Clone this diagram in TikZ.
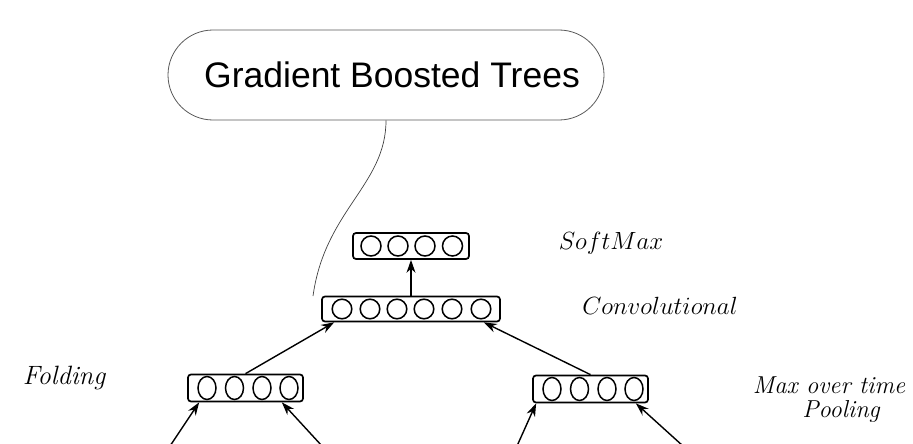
\documentclass[tikz,border=0pt]{standalone}
\usepackage{fontspec}
\newfontfamily\arialfont{Liberation Sans}
\usetikzlibrary{arrows.meta}
\begin{document}
\begin{tikzpicture}[x=1pt,y=-1pt,
  nbox/.style={draw, line width=1.7pt, rounded corners=3pt, inner sep=0pt},
  cell/.style={line width=1.5pt},
  arr/.style={-{Stealth[length=13pt,width=9pt]}, line width=1.4pt},
  lab/.style={inner sep=0pt}]
\useasboundingbox (0,0) rectangle (913,444);
% top stadium
\node[draw=black!65, line width=0.8pt, rounded corners=45pt, minimum width=436pt, minimum height=90pt, inner sep=0pt,
  font=\arialfont\fontsize{35.5}{38}\selectfont] (gbt) at (386,75) {\hspace*{12pt}Gradient Boosted Trees};
% boxes
\node[nbox, minimum width=116pt, minimum height=26pt] (sm) at (411,246) {};
\node[nbox, minimum width=178pt, minimum height=25pt] (conv) at (411,309) {};
\node[nbox, minimum width=115pt, minimum height=27pt] (fl) at (245.5,388) {};
\node[nbox, minimum width=115pt, minimum height=27pt] (mp) at (590.5,389) {};
% cells
\foreach \x in {371,398,425,452.5} \draw[cell] (\x,246) circle (10);
\foreach \x in {342,370,397,424,452,481} \draw[cell] (\x,309) circle (9.8);
\foreach \x in {207,234.5,262,289} \draw[cell] (\x,388) ellipse (9 and 11.5);
\foreach \x in {552,579.5,607,634} \draw[cell] (\x,389) ellipse (9 and 11.5);
% curve from stadium
\coordinate (cend) at (313,296);
\draw[line width=0.7pt, black!75] (gbt.south) .. controls (386,185) and (325,210) .. (cend);
% arrows
\draw[arr] (conv.north) -- (sm.south);
\draw[arr] (fl.north) -- ([xshift=13pt]conv.south west);
\draw[arr] (mp.north) -- ([xshift=-17pt]conv.south east);
\coordinate (a1) at (170,446);
\coordinate (a2) at (322,446);
\coordinate (a3) at (517,446);
\coordinate (a4) at (683,446);
\draw[arr] (a1) -- ([xshift=12pt]fl.south west);
\draw[arr] (a2) -- ([xshift=-22pt]fl.south east);
\draw[arr] (a3) -- ([xshift=4pt]mp.south west);
\draw[arr] (a4) -- ([xshift=-13pt]mp.south east);
% labels
\node[lab, font=\fontsize{23.7}{26}\selectfont] (lsm) at (611,243) {$SoftMax$};
\node[lab, font=\fontsize{24}{26}\selectfont] (lconv) at (660,306) {$Convolutional$};
\node[lab, font=\fontsize{26.5}{28}\selectfont\itshape] (lfold) at (64,378) {Folding};
\node[lab, font=\fontsize{24.5}{26}\selectfont\itshape] (lmax) at (829,385) {Max over time};
\node[lab, font=\fontsize{24.5}{26}\selectfont\itshape] (lpool) at (841,411) {Pooling};
\end{tikzpicture}
\end{document}
